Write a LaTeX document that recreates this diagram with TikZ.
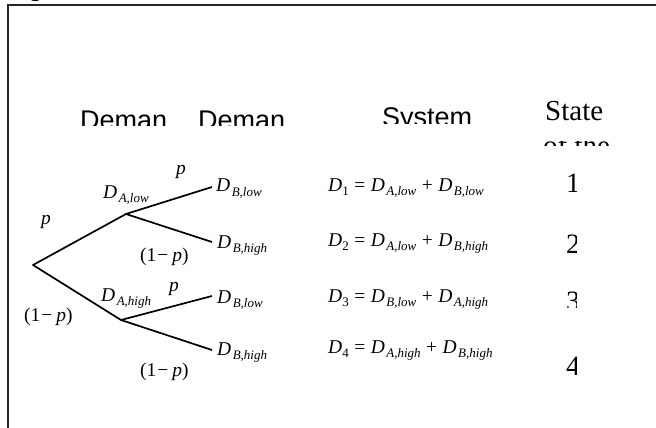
\documentclass[tikz,border=0pt]{standalone}
\usepackage{fontspec}
\setmainfont{Liberation Serif}
\newfontfamily\arialf{Liberation Sans}
\newcommand\subsz{\fontsize{13}{13}\selectfont}
\newcommand\Dv[1]{\textit{D}\kern1.5pt\raisebox{-4.5pt}{\subsz\textit{#1}}}
\newcommand\Dn[1]{\textit{D}\raisebox{-4pt}{\subsz #1}}
\newcommand\omp{(1\kern1pt−\kern4pt\textit{p})}
\newcommand\eqsp{\hspace{5.5pt}}
\tikzset{
  lbl/.style={anchor=base west,inner sep=0pt,font=\fontsize{19.5}{19.5}\selectfont},
  head/.style={anchor=base west,inner sep=0pt,font=\arialf\fontsize{27}{27}\selectfont},
  shead/.style={anchor=base west,inner sep=0pt,font=\fontsize{29}{29}\selectfont},
  digit/.style={anchor=base west,inner sep=0pt,font=\fontsize{28}{28}\selectfont},
  branch/.style={line width=1.7pt,line join=round},
  frame/.style={line width=2pt,draw=black!85}
}
\begin{document}
\begin{tikzpicture}[x=1pt,y=-1pt]
\useasboundingbox (0,0) rectangle (656,428);
% clipped title
\begin{scope}
\clip (0,0) rectangle (656,2.6);
\node[anchor=base west,inner sep=0pt,font=\bfseries\itshape\fontsize{24}{24}\selectfont] (title) at (9,-3) {Figure};
\end{scope}
% frame
\coordinate (ftl) at (8,5);
\coordinate (ftr) at (656,5);
\coordinate (fbl) at (8,428);
\draw[frame] (fbl) -- (ftl) -- (ftr);
% headers
\begin{scope}
\clip (0,95) rectangle (330,125);
\node[head] (h1) at (80,129) {Deman};
\node[head] (h2) at (198,129) {Deman};
\end{scope}
\begin{scope}
\clip (330,95) rectangle (520,123);
\node[head] (h3) at (382,126) {System};
\end{scope}
\node[shead] (h4) at (545,120) {State};
\begin{scope}
\clip (530,141.5) rectangle (640,145.5);
\node[shead] (h5) at (543,155) {of the};
\end{scope}
% tree
\coordinate (r) at (33,265);
\coordinate (a1) at (126,214);
\coordinate (a2) at (121,320);
\coordinate (b1) at (212,187);
\coordinate (b2) at (212,242);
\coordinate (b3) at (212,296);
\coordinate (b4) at (212,350);
\draw[branch] (b1) -- (a1) -- (r) -- (a2) -- (b3);
\draw[branch] (a1) -- (b2);
\draw[branch] (a2) -- (b4);
% tree labels
\node[lbl] (pl) at (41,224) {\textit{p}};
\node[lbl] (ompl) at (24,321) {\omp};
\node[lbl] (dal) at (103,198) {\Dv{A,low}};
\node[lbl] (dah) at (101,301) {\Dv{A,high}};
\node[lbl] (pu) at (176,174) {\textit{p}};
\node[lbl] (pd) at (169,291) {\textit{p}};
\node[lbl] (ompu) at (140,261) {\omp};
\node[lbl] (ompd) at (140,376) {\omp};
\node[lbl] (dbl1) at (216,191.5) {\Dv{B,low}};
\node[lbl] (dbh1) at (217,248) {\Dv{B,high}};
\node[lbl] (dbl2) at (217,303) {\Dv{B,low}};
\node[lbl] (dbh2) at (217,355) {\Dv{B,high}};
% equations
\node[lbl] (e1) at (328,191) {\Dn{1}\eqsp=\eqsp\Dv{A,low}\eqsp+\eqsp\Dv{B,low}};
\node[lbl] (e2) at (328,246) {\Dn{2}\eqsp=\eqsp\Dv{A,low}\eqsp+\eqsp\Dv{B,high}};
\node[lbl] (e3) at (328,302) {\Dn{3}\eqsp=\eqsp\Dv{B,low}\eqsp+\eqsp\Dv{A,high}};
\node[lbl] (e4) at (328,353) {\Dn{4}\eqsp=\eqsp\Dv{A,high}\eqsp+\eqsp\Dv{B,high}};
% state numbers
\begin{scope}
\clip (540,160) rectangle (576.5,400);
\node[digit] (s1) at (566,192) {1};
\node[digit] (s2) at (566,253) {2};
\end{scope}
\begin{scope}
\clip (540,291.5) rectangle (576.5,307.5);
\node[digit] (s3) at (566,310) {3};
\end{scope}
\begin{scope}
\clip (540,330) rectangle (576.5,400);
\node[digit] (s4) at (566,375) {4};
\end{scope}
\end{tikzpicture}
\end{document}
